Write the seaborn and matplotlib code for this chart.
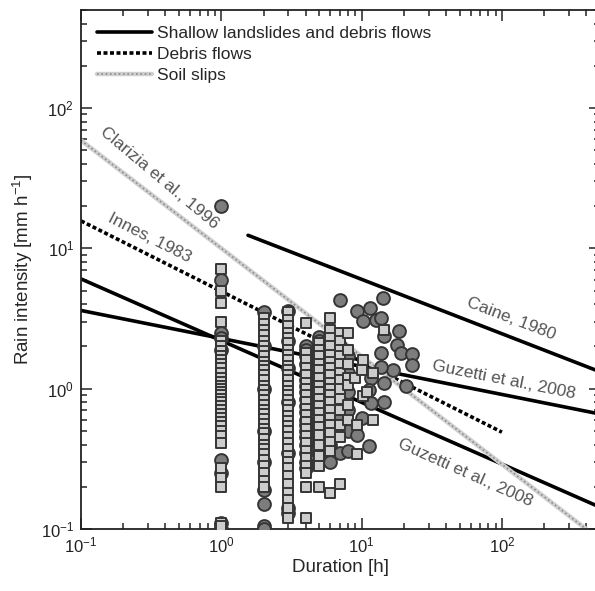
import matplotlib
matplotlib.use("Agg")
import matplotlib.pyplot as plt
import seaborn as sns
import pandas as pd
from matplotlib.lines import Line2D
from matplotlib.legend_handler import HandlerTuple

# ---------------- data ----------------
# threshold lines (end points)
caine_d = [1.55, 500]
caine_i = [12.4, 1.32]
guzz_a_d = [0.1, 500]          # steep Guzzetti (shallow landslides & debris flows)
guzz_a_i = [6.06, 0.143]
guzz_b_d = [0.1, 500]          # flat Guzzetti
guzz_b_i = [3.61, 0.66]
innes_d = [0.1, 100]
innes_i = [15.7, 0.49]
clarizia_d = [0.1, 398]
clarizia_i = [58.9, 0.1]

# square markers: intensities per duration column
sq_1h = [7.1, 4.96, 4.1, 3.0, 2.2, 2.0, 1.85, 1.7, 1.6, 1.5, 1.4, 1.3, 1.2, 1.12, 1.05, 1.0,
         0.95, 0.9, 0.85, 0.8, 0.75, 0.7, 0.66, 0.62, 0.58, 0.54, 0.5, 0.46, 0.41, 0.27, 0.23,
         0.2, 0.11, 0.105]
sq_2h = [3.2, 2.9, 2.6, 2.4, 2.2, 2.0, 1.85, 1.7, 1.55, 1.45, 1.35, 1.25, 1.15, 1.05, 0.98,
         0.9, 0.83, 0.77, 0.71, 0.66, 0.61, 0.56, 0.52, 0.48, 0.44, 0.4, 0.37, 0.34, 0.31,
         0.28, 0.25, 0.22, 0.2]
sq_3h = [3.5, 3.1, 2.8, 2.5, 2.3, 2.1, 1.9, 1.75, 1.6, 1.45, 1.35, 1.25, 1.15, 1.05, 0.97,
         0.9, 0.83, 0.76, 0.7, 0.64, 0.59, 0.54, 0.5, 0.45, 0.41, 0.37, 0.33, 0.3, 0.27, 0.24,
         0.21, 0.18, 0.16, 0.14, 0.12]
sq_4h = [2.95, 1.8, 1.6, 1.4, 1.25, 1.1, 1.0, 0.9, 0.8, 0.72, 0.65, 0.58, 0.52, 0.46, 0.41,
         0.36, 0.32, 0.28, 0.25, 0.2, 0.12]
sq_5h = [2.1, 1.9, 1.7, 1.5, 1.35, 1.2, 1.05, 0.95, 0.85, 0.75, 0.67, 0.6, 0.53, 0.47, 0.4,
         0.33, 0.28, 0.2]
sq_6h = [3.2, 2.6, 2.3, 2.0, 1.75, 1.55, 1.4, 1.25, 1.1, 1.0, 0.9, 0.8, 0.7, 0.62, 0.55,
         0.48, 0.42, 0.36, 0.18]
sq_7h = [2.5, 2.2, 1.9, 1.7, 1.5, 1.3, 1.15, 1.0, 0.85, 0.7, 0.55, 0.45, 0.21]
sq_8h = [2.5, 1.9, 1.5, 1.2, 1.07, 0.77, 0.6]
sq_other_d = [14.4, 10.3, 9.3, 10.3, 9.3, 12.0, 9.0, 12.0, 11.0, 10.0]
sq_other_i = [2.6, 1.6, 0.55, 0.88, 0.34, 1.3, 1.2, 0.6, 0.95, 1.35]

# circle markers: intensities per duration column
ci_1h = [20.0, 6.0, 2.5, 2.3, 1.9, 0.31, 0.25, 0.1, 0.11]
ci_2h = [3.5, 2.0, 1.0, 0.5, 0.3, 0.19, 0.15, 0.105, 0.1]
ci_3h = [3.6, 2.2, 1.4, 0.8, 0.35, 0.14, 0.13]
ci_4h = [2.0, 1.9, 1.7, 1.5, 1.3, 1.15, 1.05, 0.95, 0.85, 0.75, 0.68, 0.6, 0.55, 0.5, 0.45,
         0.4, 0.35, 0.3, 0.27]
ci_5h = [2.35, 2.2, 2.0, 1.8, 1.6, 1.4, 1.25, 1.1, 1.0, 0.9, 0.8, 0.7, 0.6, 0.5, 0.42, 0.35]
ci_6h = [2.4, 1.9, 1.3, 0.95, 0.75, 0.6, 0.5, 0.4, 0.3]
ci_7h = [4.3, 2.0, 1.6, 1.2, 0.9, 0.65, 0.5, 0.35]
ci_8h = [1.7, 1.3, 0.95, 0.7, 0.5, 0.36]
ci_other_d = [14.2, 9.2, 11.4, 10.3, 12.6, 13.7, 14.4, 18.5, 17.9, 19.0, 23.0, 23.0, 13.7,
              16.6, 13.7, 11.6, 14.4, 20.6, 14.4, 11.3, 10.1, 11.3, 9.3, 11.6]
ci_other_i = [4.45, 3.56, 3.76, 3.03, 3.1, 3.2, 2.37, 2.56, 2.06, 1.8, 1.78, 1.48, 1.8,
              1.37, 1.43, 1.19, 1.09, 1.04, 0.81, 0.98, 0.62, 0.39, 0.47, 0.79]

legend_labels = ["Shallow landslides and debris flows", "Debris flows", "Soil slips"]

# ---------------- build tables ----------------
def column_table(cols, extra_d, extra_i):
    d, i = [], []
    for dur, vals in cols:
        d += [dur] * len(vals)
        i += vals
    d += extra_d
    i += extra_i
    return pd.DataFrame({"Duration": d, "Intensity": i})

squares = column_table([(1, sq_1h), (2, sq_2h), (3, sq_3h), (4, sq_4h), (5, sq_5h),
                        (6, sq_6h), (7, sq_7h), (8, sq_8h)], sq_other_d, sq_other_i)
circles = column_table([(1, ci_1h), (2, ci_2h), (3, ci_3h), (4, ci_4h), (5, ci_5h),
                        (6, ci_6h), (7, ci_7h), (8, ci_8h)], ci_other_d, ci_other_i)

# ---------------- plot ----------------
sns.set_style("ticks")
plt.rcParams["font.family"] = ["Liberation Sans", "DejaVu Sans"]
plt.rcParams["mathtext.fontset"] = "custom"
plt.rcParams["mathtext.rm"] = "Liberation Sans"
plt.rcParams["mathtext.it"] = "Liberation Sans:italic"

fig = plt.figure(figsize=(5.95, 5.91), dpi=100)
ax = fig.add_axes([81 / 595, (591 - 529) / 591, 519 / 595, 519 / 591])
ax.set_xscale("log")
ax.set_yscale("log")

solid_kw = dict(color="black", linewidth=2.6)
sns.lineplot(x=caine_d, y=caine_i, ax=ax, **solid_kw)
sns.lineplot(x=guzz_a_d, y=guzz_a_i, ax=ax, **solid_kw)
sns.lineplot(x=guzz_b_d, y=guzz_b_i, ax=ax, **solid_kw)
sns.lineplot(x=innes_d, y=innes_i, ax=ax, color="black", linewidth=2.6,
             linestyle=(0, (1.1, 0.7)))
sns.lineplot(x=clarizia_d, y=clarizia_i, ax=ax, color="#cfcfcf", linewidth=3.2)
sns.lineplot(x=clarizia_d, y=clarizia_i, ax=ax, color="#8c8c8c", linewidth=1.2,
             linestyle=(0, (1, 1.6)))

sns.scatterplot(data=circles, x="Duration", y="Intensity", ax=ax, marker="o", s=85,
                color="#7d7d7d", edgecolor="#353535", linewidth=1.4, zorder=3)
sns.scatterplot(data=squares, x="Duration", y="Intensity", ax=ax, marker="s", s=62,
                color="#cdcdcd", edgecolor="#353535", linewidth=1.4, zorder=4)

ax.set_xlim(0.1, 500)
ax.set_ylim(0.1, 500)

txt_kw = dict(color="#555555", fontsize=12.5, ha="center", va="center",
              rotation_mode="anchor")
ax.text(0.36, 31.5, "Clarizia et al., 1996", rotation=-40, **txt_kw)
ax.text(0.31, 11.8, "Innes, 1983", rotation=-27, **txt_kw)
ax.text(116, 3.15, "Caine, 1980", rotation=-21, **txt_kw)
ax.text(103, 1.16, "Guzetti et al., 2008", rotation=-11.3, **txt_kw)
ax.text(55, 0.25, "Guzetti et al., 2008", rotation=-24, **txt_kw)

ax.set_xlabel("Duration [h]", fontsize=13.5, labelpad=2)
ax.set_ylabel(r"Rain intensity [mm h$^{-1}$]", fontsize=13.5, labelpad=4)

ax.tick_params(which="both", direction="in", top=True, right=True, width=1.1,
               labelsize=12, colors="#222222")
ax.tick_params(which="major", length=8, pad=5)
ax.tick_params(which="minor", length=4.5)
for sp in ax.spines.values():
    sp.set_linewidth(1.3)
    sp.set_color("#222222")

h_solid = Line2D([], [], color="black", linewidth=2.6)
h_dot = Line2D([], [], color="black", linewidth=2.6, linestyle=(0, (1.1, 0.7)))
h_soil_a = Line2D([], [], color="#cfcfcf", linewidth=3.2)
h_soil_b = Line2D([], [], color="#8c8c8c", linewidth=1.2, linestyle=(0, (1, 1.6)))
ax.legend([h_solid, h_dot, (h_soil_a, h_soil_b)], legend_labels,
          handler_map={tuple: HandlerTuple(ndivide=1, pad=0)},
          loc="upper left", frameon=False, fontsize=12.5, handlelength=3.2,
          handletextpad=0.3, labelspacing=0.35, borderaxespad=0.5,
          bbox_to_anchor=(0.0, 1.0))

fig.savefig("out.png", dpi=100)
